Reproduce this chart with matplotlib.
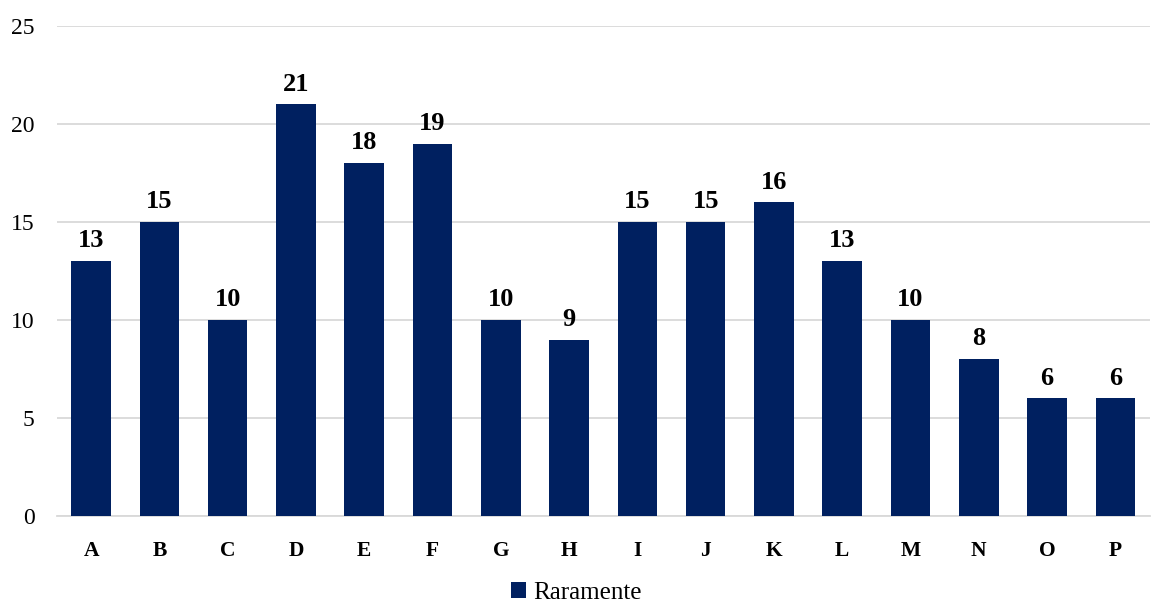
import matplotlib
matplotlib.use("Agg")
import matplotlib.pyplot as plt

categories = list("ABCDEFGHIJKLMNOP")
values = [13, 15, 10, 21, 18, 19, 10, 9, 15, 15, 16, 13, 10, 8, 6, 6]
yticks = [0, 5, 10, 15, 20, 25]
series_name = "Raramente"

plt.rcParams['font.family'] = ['Liberation Serif', 'DejaVu Serif']

fig = plt.figure(figsize=(11.53, 6.07), dpi=100)
ax = fig.add_axes([0.0494, 0.15, 0.9476, 0.807])
color = "#002060"
x = range(len(categories))
bars = ax.bar(x, values, width=0.58, color=color, label=series_name, zorder=3)
ax.set_xlim(-0.5, len(categories) - 0.5)
ax.set_ylim(0, 25)
ax.set_yticks(yticks)
ax.set_yticklabels([str(t) for t in yticks], fontsize=17)
ax.set_xticks(list(x))
ax.set_xticklabels(categories, fontsize=15.5, fontweight='bold')
ax.tick_params(axis='both', length=0)
ax.tick_params(axis='y', pad=16)
ax.tick_params(axis='x', pad=18)
ax.grid(axis='y', color='#d9d9d9', linewidth=1.3, zorder=0)
for s in ['top', 'right', 'left']:
    ax.spines[s].set_visible(False)
ax.spines['bottom'].set_color('#d9d9d9')
ax.spines['bottom'].set_linewidth(1.3)
for xi, v in zip(x, values):
    ax.text(xi, v + 0.45, str(v), ha='center', va='bottom', fontsize=19, fontweight='bold')
leg = fig.legend(handles=[bars], labels=[series_name], loc='lower center',
                 bbox_to_anchor=(0.5, -0.032), frameon=False, fontsize=18,
                 handlelength=0.6, handleheight=0.6, handletextpad=0.3)
fig.savefig("out.png", dpi=100)
